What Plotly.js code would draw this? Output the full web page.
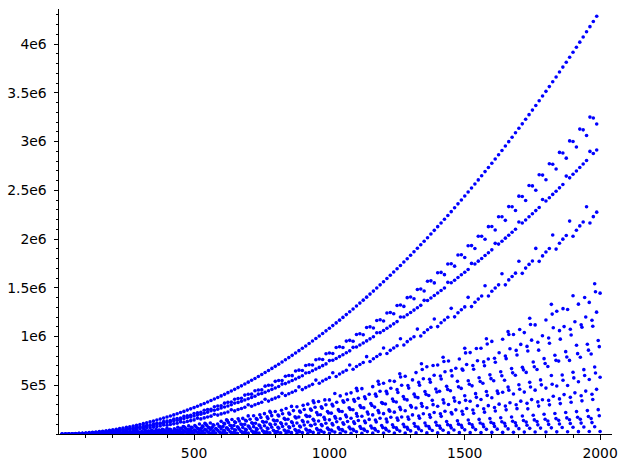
<!DOCTYPE html>
<html><head><meta charset="utf-8">
<script src="https://cdn.plot.ly/plotly-3.0.1.min.js"></script>
<style>html,body{margin:0;padding:0;background:#fff}#chart{width:627px;height:468px}</style>
</head><body><div id="chart"></div>
<script>
// y values are in thousands
const topX = [12.5,25,37.5,50,62.5,75,87.5,100,112.5,125,137.5,150,162.5,175,187.5,200,212.5,225,237.5,250,262.5,275,287.5,300,312.5,325,337.5,350,362.5,375,387.5,400,412.5,425,437.5,450,462.5,475,487.5,500,512.5,525,537.5,550,562.5,575,587.5,600,612.5,625,637.5,650,662.5,675,687.5,700,712.5,725,737.5,750,762.5,775,787.5,800,812.5,825,837.5,850,862.5,875,887.5,900,912.5,925,937.5,950,962.5,975,987.5,1000,1012.5,1025,1037.5,1050,1062.5,1075,1087.5,1100,1112.5,1125,1137.5,1150,1162.5,1175,1187.5,1200,1212.5,1225,1237.5,1250,1262.5,1275,1287.5,1300,1312.5,1325,1337.5,1350,1362.5,1375,1387.5,1400,1412.5,1425,1437.5,1450,1462.5,1475,1487.5,1500,1512.5,1525,1537.5,1550,1562.5,1575,1587.5,1600,1612.5,1625,1637.5,1650,1662.5,1675,1687.5,1700,1712.5,1725,1737.5,1750,1762.5,1775,1787.5,1800,1812.5,1825,1837.5,1850,1862.5,1875,1887.5,1900,1912.5,1925,1937.5,1950,1962.5,1975,1987.5];
const topY = [0.2,0.7,1.5,2.7,4.2,6.1,8.3,10.9,13.7,17.0,20.5,24.4,28.7,33.2,38.1,43.4,49.0,54.9,61.2,67.8,74.8,82.1,89.7,97.6,106,115,124,133,143,153,163,174,185,196,208,220,232,245,258,271,285,299,313,328,343,359,374,391,407,424,441,458,476,494,513,532,551,570,590,610,631,652,673,694,716,738,761,784,807,831,855,879,903,928,954,979,1005,1031,1058,1085,1112,1140,1168,1196,1225,1254,1283,1313,1343,1373,1404,1435,1466,1498,1530,1562,1595,1628,1662,1695,1729,1764,1798,1834,1869,1905,1941,1977,2014,2051,2089,2127,2165,2203,2242,2281,2321,2361,2401,2441,2482,2523,2565,2607,2649,2692,2734,2778,2821,2865,2909,2954,2999,3044,3090,3136,3182,3229,3276,3323,3370,3418,3467,3515,3564,3614,3663,3713,3764,3814,3865,3917,3968,4020,4073,4126,4179,4232,4286];
const band2Y = [0.16,0.54,1.1,2.1,3.2,4.5,6.5,8.3,10.2,13.2,15.7,18.1,22.3,25.4,28.3,33.8,37.5,40.7,47.6,51.9,55.5,63.9,68.7,72.4,82.5,88.1,92,103.5,109.5,113.5,126.8,133.3,137.3,152.5,159.3,163.2,180.5,187.7,191.4,210.8,218.3,221.9,243.5,251.2,254.5,279.3,286.5,290.1,316.6,324.8,327.2,356.3,364.6,366.5,399.1,407.5,408.8,443.5,451.9,452.6,490.9,499.4,499.4,539.9,548.5,547.6,592.1,600.5,598.8,646.5,654.9,652.2,702.5,710.8,707.9,761.7,769.8,765,823.1,831.1,825.1,886.9,894.7,887.4,953.1,960.6,952,1021.5,1028.7,1018.8,1092,1099,1088,1165,1172,1159,1241,1247,1233,1319,1324,1309,1399,1405,1387,1482,1487,1467,1567,1571,1550,1655,1658,1635,1744,1747,1722,1837,1839,1811,1931,1933,1903,2028,2029,1998,2127,2128,2093,2229,2228,2192,2333,2332,2293,2440,2437,2396,2549,2545,2501,2659,2656,2608,2773,2768,2718,2889,2883,2830,3007,3000,2944,3128,3120,3062,3251,3242,3180];
const band3Y = [0.1,0.5,1.0,1.8,2.9,4.1,5.6,7.4,9.3,11.8,13.9,16.6,19.5,22.6,25.9,29.5,34,37.3,41.6,46.1,50.9,55.8,61.0,67.7,72.1,78.2,84.3,90.4,97.2,104,113,118,126,133,141,150,158,170,175,184,194,203,213,223,238,244,254,266,277,288,300,317,324,336,349,362,375,388,409,415,429,443,458,472,487,512,517,533,549,565,581,598,626,631,649,666,683,701,719,753,756,775,794,813,833,853,889,893,913,934,955,976,997,1039,1040,1062,1085,1107,1130,1153,1200,1200,1223,1247,1271,1295,1320,1371,1370,1395,1421,1446,1472,1498,1556,1551,1578,1605,1633,1660,1688,1750,1744,1773,1801,1831,1859,1889,1956,1948,1978,2009,2039,2070,2101,2175,2164,2196,2228,2260,2292,2324,2405,2390,2424,2458,2491,2525,2560,2646,2628,2664,2698,2734,2770,2806,2899,2878,2914];
const band4Y = [0.11,0.36,0.79,1.43,2.24,3.45,4.3,5.74,7.27,9.08,11.6,12.6,15.1,17.6,20.3,24.5,25.4,28.9,32.5,36.2,42.3,42.5,47.3,51.8,56.6,65,64.2,70.1,75.9,81.7,92.1,90.1,97.5,104.1,111.1,124.3,120.2,129.1,137,144.7,161,154.9,165,174.2,183.2,202.8,193.7,206,216.1,226.4,249.2,237.2,250.9,262.3,273.9,300.6,285.4,300.4,313.3,325.7,356.5,337.7,354.7,368.5,382.3,417,394.2,413.2,428.5,443.8,483.1,455.3,475.9,492.8,509.4,553.1,520.6,543.3,561.8,579.4,628.3,590.5,615.5,635.1,654.2,708.5,664.6,691.9,713.1,733.2,793.3,743.3,772.6,795.4,817,882.5,826.2,858,882.5,905.1,976.9,913.8,947.5,973.9,998,1076,1005,1042,1069,1095,1180,1102,1141,1170,1197,1289,1202,1244,1275,1304,1402,1307,1352,1384,1415,1521,1416,1464,1498,1530,1644,1530,1581,1616,1650,1772,1648,1702,1740,1775,1904,1771,1827,1867,1903,2042,1897,1957,1999,2037,2184,2029,2091,2135,2175,2331,2165,2230,2276];

const gridA = [120,160,200,240,280,320,360,400,440,480,520,560,600,640,680,720,760,800,840,880,920,960,1000,1040,1080,1120,1160,1200,1240,1280,1320,1360,1400,1440,1480,1520,1560,1600,1640,1680,1720,1760,1800,1840,1880,1920,1960,2000];
const gridB = [127,167,207,247,287,327,367,407,447,487,527,567,607,647,687,727,767,807,847,887,927,967,1007,1047,1087,1127,1167,1207,1247,1287,1327,1367,1407,1447,1487,1527,1567,1607,1647,1687,1727,1767,1807,1847,1887,1927,1967];
const gridC = [133,173,213,253,293,333,373,413,453,493,533,573,613,653,693,733,773,813,853,893,933,973,1013,1053,1093,1133,1173,1213,1253,1293,1333,1373,1413,1453,1493,1533,1573,1613,1653,1693,1733,1773,1813,1853,1893,1933,1973];
const gridD = [140,180,220,260,300,340,380,420,460,500,540,580,620,660,700,740,780,820,860,900,940,980,1020,1060,1100,1140,1180,1220,1260,1300,1340,1380,1420,1460,1500,1540,1580,1620,1660,1700,1740,1780,1820,1860,1900,1940,1980];
const gridE = [147,187,227,267,307,347,387,427,467,507,547,587,627,667,707,747,787,827,867,907,947,987,1027,1067,1107,1147,1187,1227,1267,1307,1347,1387,1427,1467,1507,1547,1587,1627,1667,1707,1747,1787,1827,1867,1907,1947,1987];
const gridF = [153,193,233,273,313,353,393,433,473,513,553,593,633,673,713,753,793,833,873,913,953,993,1033,1073,1113,1153,1193,1233,1273,1313,1353,1393,1433,1473,1513,1553,1593,1633,1673,1713,1753,1793,1833,1873,1913,1953,1993];
const gridG = [263,303,343,383,423,463,503,543,583,623,663,703,743,783,823,863,903,943,983,1023,1063,1103,1143,1183,1223,1263,1303,1343,1383,1423,1463,1503,1543,1583,1623,1663,1703,1743,1783,1823,1863,1903,1943,1983];
const gridH = [250,290,330,370,410,450,490,530,570,610,650,690,730,770,810,850,890,930,970,1010,1050,1090,1130,1170,1210,1250,1290,1330,1370,1410,1450,1490,1530,1570,1610,1650,1690,1730,1770,1810,1850,1890,1930,1970];
const gridI = [277,317,357,397,437,477,517,557,597,637,677,717,757,797,837,877,917,957,997,1037,1077,1117,1157,1197,1237,1277,1317,1357,1397,1437,1477,1517,1557,1597,1637,1677,1717,1757,1797,1837,1877,1917,1957,1997];
const sparseX = [460,540,620,700,780,860,940,1020,1100,1180,1260,1340,1420,1500,1580,1660,1740,1820,1900,1980];

const rowA1 = [5.2,9.3,14.5,20.8,28.3,37,46.8,57.8,70,83.3,103,113,130,148,160,187,209,231,262,280,306,333,350,391,422,465,486,520,540,592,630,690,708,749,770,835,879,950,972,1020,1040,1119,1170,1260,1277,1332,1350,1445];
const rowA2 = [2.1,3.7,5.8,8.4,11.4,14.9,18.8,23.3,28.2,33.5,39.3,45.6,52.3,59.5,67.2,75.4,84,99,103,113,123,134,145,157,162,182,196,209,224,238,266,269,285,302,322,336,354,372,428,410,430,450,471,492,497,536,559,582];
const rowA3 = [0.1,0.2,0.3,0.4,0.5,0.7,0.8,1,1.3,1.5,1.8,2,2.3,2.7,3,3.4,3.8,4.2,4.6,5,5.5,6,6.5,7,7.6,8.2,8.8,9.4,10,10.7,11.3,12,12.8,13.5,14.3,15,15.8,16.7,17.5,18.4,19.3,20.2,21.1,22,23,24,25,26];
const rowB1 = [3.1,5.5,8.5,12.3,16.8,21.9,27.7,34.2,41.4,49.3,57.8,67,77,87.5,98.8,111,123,137,151,174,181,197,214,231,249,268,276,308,329,350,373,395,438,443,468,494,520,547,552,603,632,662,692,748,755,788,821];
const rowB2 = [0.6,1.1,1.6,2.4,3.2,4.2,5.3,6.6,8,9.5,11.1,12.9,14.8,16.9,19.1,21.4,23.8,26.4,29.1,31.9,34.9,38,41.2,44.6,48.1,51.7,55.5,59.4,63.4,67.6,71.9,76.3,80.8,85.5,90.3,95.3,100,106,111,116,122,128,134,140,146,152,158];
const rowC1 = [4.1,7.4,11.5,16.6,22.6,29.4,37.3,46,55.7,66.3,77.8,90.2,103.5,117.8,133,149,158,184,203,223,243,265,288,326,335,361,387,414,425,471,501,532,564,596,655,664,700,736,773,811,851,860,931,973,1016,1095,1105];
const rowC2 = [1.3,2.4,3.7,5.3,7.2,9.4,12,14.8,17.9,21.3,24.9,28.9,33.2,37.8,42.6,47.8,53.3,59,65.1,71.4,84,85,92.2,99.7,108,116,124,124,142,151,161,171,181,205,202,213,224,236,248,260,258,286,299,312,326,340,354];
const rowD1 = [2.6,4.6,7.2,10.3,14,18.3,23.2,28.6,34.7,41.3,48.4,56.1,64.4,73.3,82.8,92.8,103,115,126,139,152,172,179,194,209,225,241,247,275,293,312,345,351,371,392,414,436,440,481,505,530,555,600,606,633,660,688];
const rowD2 = [0.3,0.5,0.8,1.1,1.5,2,2.5,3.1,3.8,4.5,5.3,6.1,7,8,9,10.1,11.3,12.5,13.8,15.1,16.5,18,19.5,21.1,22.8,24.5,26.3,28.1,30,32,34,36.1,38.3,40.5,42.8,45.1,47.5,50,52.5,55.1,57.8,60.5,63.3,66.1,69,72,75];
const rowE1 = [4.7,8.3,13,18.8,25.5,33.3,42.2,52.1,63,75,88,102,117,133,151,169,188,208,240,252,275,300,326,352,366,408,438,469,500,555,567,602,638,675,713,752,770,833,875,919,963,1008,1090,1102,1151,1200,1250];
const rowE2 = [1.7,3.1,4.8,6.9,9.4,12.2,15.5,19.1,23.1,27.5,32.3,37.4,43,48.9,55.2,61.9,68.9,76.4,84.2,92.4,101,110,126,129,139,150,161,172,175,196,208,221,234,248,261,290,291,306,321,337,353,352,387,404,422,440,458];
const rowF1 = [3.6,6.4,10,14.4,19.6,25.6,32.3,39.9,48.3,57.5,67.5,78.3,89.8,102,115,129,144,160,176,193,221,230,250,270,291,313,322,359,384,409,435,462,489,540,547,577,607,639,671,684,738,773,808,845,910,920,959];
const rowF2 = [0.9,1.7,2.6,3.8,5.1,6.7,8.4,10.4,12.6,15,17.6,20.4,23.4,26.7,30.1,33.8,37.6,41.7,45.9,50.4,55.1,60,65.1,70.4,76,81.7,87.6,93.7,100,107,113,120,128,135,143,150,158,167,175,184,193,202,211,220,230,240,250];
const rowG1 = [21.9,null,38.9,49.2,null,73.5,87.5,102.7,null,136.7,155.5,null,196.9,219.3,243,null,294,321,350,null,411,443,null,511,547,584,null,662,702,744,null,832,877,924,null,1021,1072,1124,null,1230,1286,null,1400,1459];
const rowG2 = [9.4,12.8,16.7,21.1,26,31.5,37.5,44,51,58.6,66.7,75.3,84.4,94,104.2,114.8,126,137.7,150,162.8,176,182,204.2,219,234.3,250.2,276,283.7,301,319,337.6,345,376,396.2,416.7,450,459.3,481.5,504.2,510,551,575.3,600,625.2];
const rowH1 = [17.5,23.8,31.1,39.4,48.6,58.8,70,82.2,95.3,109.4,124.4,140.5,157.5,175.5,194.4,214.4,235.3,257.1,280,303.8,340,354.5,381,408.8,437.4,455,497.8,529.5,562,595.6,650,665.6,702,739.5,777.8,800,857.4,898.8,941,984.2,1060,1074,1120,1167];
const rowH2 = [6.1,8.3,10.9,13.8,17,20.6,24.5,28.8,33.3,38.3,43.6,49.2,55.1,61.4,68.1,75,82.3,90,98,106.3,115,124.1,133.4,143.1,153.1,163.5,174.2,185.3,196.7,208.4,220.5,233,245.7,258.8,272.2,286,300.1,314.6,329.4,344.5,360,376,392,408.5];
const rowH3 = [1.75,2.4,3.1,3.9,4.9,5.9,7,8.2,9.5,10.9,12.4,14,15.8,17.5,19.4,21.4,23.5,25.7,28,30.4,32.8,35.4,38.1,40.9,43.7,46.7,49.8,53,56.2,59.6,63,66.6,70.2,74,77.8,81.7,85.7,89.9,94.1,98.4,102.8,107.4,112,116.7];
const rowI1 = [13.4,18.3,23.9,30.2,37.3,45.2,53.8,63.1,73.2,84,95.5,107.9,120.9,134.7,149.3,164.6,180.6,197.4,215,233.3,252.2,272.2,292.6,313.9,335.8,358.6,382.3,406.6,431.5,457.3,483.8,511.1,539,567.8,597.3,627.4,658.3,690.2,722.6,755.7,789.6,824.5,860,896.1];
const rowI2 = [2.8,3.8,5,6.3,7.8,9.5,11.3,13.2,15.3,17.6,20,22.6,25.3,28.2,31.2,34.5,37.8,41.3,45,48.8,52.8,57,61.3,65.7,70.3,75.1,80,85.1,90.3,95.7,101.3,107,112.8,118.8,125,131.3,137.8,144.5,151.2,158.2,165.3,172.6,180,187.6];
const sparseY = [77.7,108.6,144.5,185.6,231.9,283.3,339.8,415,468.4,540.2,617.2,720,787,879.5,977.2,1050,1188,1330,1419,1542];

const yTickVals = [500,1000,1500,2000,2500,3000,3500,4000];
const yTickText = ['5e5','1e6','1.5e6','2e6','2.5e6','3e6','3.5e6','4e6'];
const xTickVals = [500,1000,1500,2000];
const xTickText = ['500','1000','1500','2000'];

const pairs = [
  [topX, topY],[topX, band2Y],[topX, band3Y],[topX, band4Y],
  [gridA,rowA1],[gridA,rowA2],[gridA,rowA3],
  [gridB,rowB1],[gridB,rowB2],[gridC,rowC1],[gridC,rowC2],
  [gridD,rowD1],[gridD,rowD2],[gridE,rowE1],[gridE,rowE2],
  [gridF,rowF1],[gridF,rowF2],
  [gridG,rowG1],[gridG,rowG2],[gridH,rowH1],[gridH,rowH2],[gridH,rowH3],
  [gridI,rowI1],[gridI,rowI2],[sparseX,sparseY]
];
const traces = pairs.map(p => ({
  type:'scatter', mode:'markers', x:p[0], y:p[1],
  marker:{color:'rgb(0,0,255)', size:3.6, line:{width:0}},
  hoverinfo:'skip', showlegend:false, cliponaxis:true
}));

const font = {family:'"DejaVu Sans", sans-serif', size:13.9, color:'#000'};
const layout = {
  width:627, height:468,
  margin:{l:59, r:15, t:9, b:34, pad:0},
  paper_bgcolor:'#fff', plot_bgcolor:'#fff',
  showlegend:false,
  xaxis:{range:[1,2044], showgrid:false, zeroline:false, showline:true, linecolor:'#000', linewidth:1,
    ticks:'outside', ticklen:4.5, tickwidth:1, tickcolor:'#000',
    tickmode:'array', tickvals:xTickVals, ticktext:xTickText, tickfont:font, ticklabelstandoff:2,
    minor:{ticks:'outside', ticklen:2.5, tickwidth:1, tickcolor:'#000', dtick:100, tick0:0, showgrid:false}},
  yaxis:{range:[0,4360], showgrid:false, zeroline:false, showline:true, linecolor:'#000', linewidth:1,
    ticks:'outside', ticklen:4.5, tickwidth:1, tickcolor:'#000',
    tickmode:'array', tickvals:yTickVals, ticktext:yTickText, tickfont:font, ticklabelstandoff:4,
    minor:{ticks:'outside', ticklen:2.5, tickwidth:1, tickcolor:'#000', dtick:100, tick0:0, showgrid:false}}
};
Plotly.newPlot('chart', traces, layout, {staticPlot:true, displayModeBar:false});
</script></body></html>
